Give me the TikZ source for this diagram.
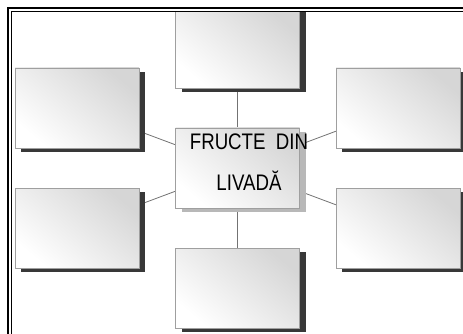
\documentclass[tikz,border=0pt]{standalone}
\usepackage{fontspec}
\setmainfont{Liberation Sans}
\usetikzlibrary{shadows,backgrounds}

\newcommand{\narrowtxt}[1]{\scalebox{0.83}[1]{#1}}

\begin{document}
\begin{tikzpicture}[x=1pt, y=-1pt,
	boxbase/.style={draw=gray!75, line width=0.6pt, minimum width=124pt, minimum height=80pt, inner sep=0pt,
		top color=gray!32, bottom color=white, shading angle=-40},
	leaf/.style={boxbase, drop shadow={shadow xshift=6pt, shadow yshift=-4pt, fill=black!78, opacity=1}},
	hub/.style={boxbase, drop shadow={shadow xshift=6pt, shadow yshift=-4pt, fill=black!28, opacity=1}},
	hubtext/.style={anchor=base, inner sep=0pt, font=\fontsize{22.5}{26}\selectfont},
	spoke/.style={draw=black!55, line width=0.8pt}]

\useasboundingbox (0,0) rectangle (463,334);
\clip (0,0) rectangle (463,334);

	\begin{scope}
		\clip (12,12) rectangle (463,334);
				% the six empty boxes
				\node [leaf] (top) at (237.5,48) {};
				\node [leaf] (lup) at (77,108) {};
				\node [leaf] (rup) at (398,108) {};
				\node [leaf] (ldn) at (77,228) {};
				\node [leaf] (rdn) at (398,228) {};
				\node [leaf] (bot) at (237.5,288) {};
				% middle box
				\node [hub] (mid) at (237.5,168) {};
				\node [hubtext] (midtxta) at (249,149.5) {\narrowtxt{FRUCTE\ \ DIN}};
				\node [hubtext] (midtxtb) at (249,190) {\narrowtxt{LIVADĂ}};
	\end{scope}

	\begin{scope}[on background layer]
				\draw [spoke] (mid) -- (top);
				\draw [spoke] (mid) -- (bot);
				\draw [spoke] (mid.center) -- (lup.center);
				\draw [spoke] (mid.center) -- (ldn.center);
				\draw [spoke] (mid.center) -- (rup.center);
				\draw [spoke] (mid.center) -- (rdn.center);
	\end{scope}

				% page frame
				\draw [line width=2.5pt] (8,8) rectangle (480,345);
				\draw [line width=0.9pt] (11.7,11.7) rectangle (475,340);

\end{tikzpicture}
\end{document}
